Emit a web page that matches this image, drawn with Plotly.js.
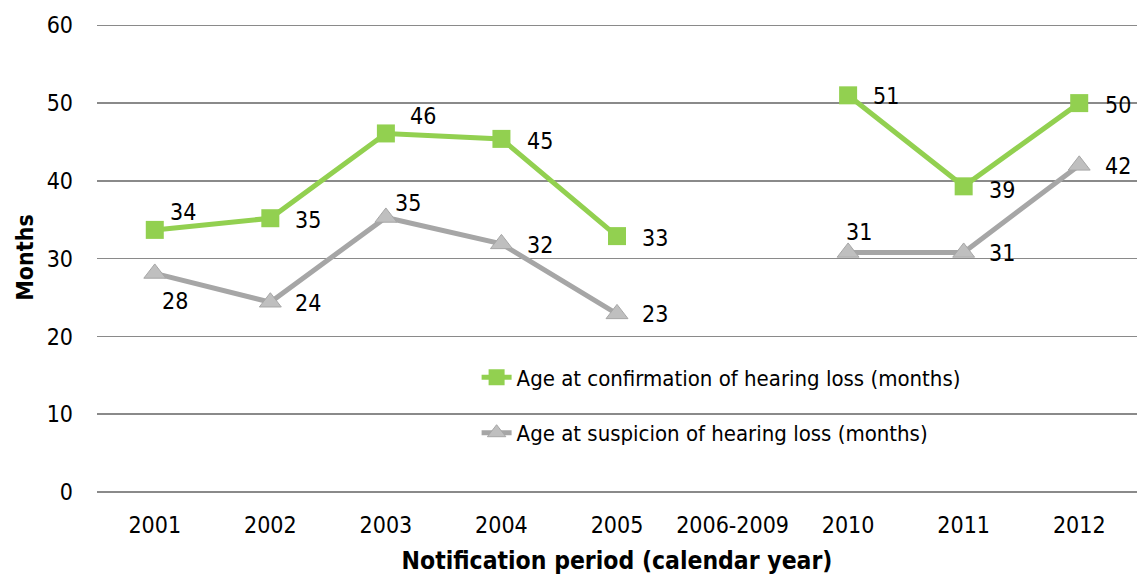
<!DOCTYPE html>
<html>
<head>
<meta charset="utf-8">
<script src="https://cdn.plot.ly/plotly-3.0.1.min.js"></script>
<style>html,body{margin:0;padding:0;background:#fff;}#chart{width:1137px;height:576px;}#err{position:absolute;left:200px;top:0;color:red;font:12px sans-serif;}</style>
</head>
<body>
<div id="chart"></div>
<div id="err"></div>
<script>
window.onerror = function(m){document.getElementById('err').textContent += ' ' + m;};
const categories = ["2001","2002","2003","2004","2005","2006-2009","2010","2011","2012"];
const confirmation = [33.7, 35.2, 46.1, 45.4, 32.9, null, 51.0, 39.3, 50.0];
const suspicion = [28.1, 24.4, 35.3, 31.9, 22.9, null, 30.8, 30.8, 42.0];
const confirmationLabels = ["34","35","46","45","33","","51","39","50"];
const suspicionLabels = ["28","24","35","32","23","","31","31","42"];
const seriesNames = ["Age at confirmation of hearing loss (months)", "Age at suspicion of hearing loss (months)"];

// label offsets (px) relative to marker: [xshift, yshift]
const confOffsets = [[28,18],[38,-2],[37,17],[39,-2],[38,-2],[0,0],[38,-1],[38,-4],[39,-2]];
const suspOffsets = [[20,-28],[38,-1],[22,14],[39,-1],[38,0],[0,0],[11,20],[38,-1],[39,-1]];

const FONT = "'DejaVu Sans Condensed', 'DejaVu Sans', sans-serif";
const FS = 23;

const traces = [
  {x: categories, y: confirmation, name: seriesNames[0], type: 'scatter', mode: 'lines+markers',
   connectgaps: false, line: {color: '#92D050', width: 5}, marker: {symbol: 'square', size: 18, color: '#92D050'},
   legend: 'legend', hoverinfo: 'skip'},
  {x: categories, y: suspicion, name: seriesNames[1], type: 'scatter', mode: 'lines+markers',
   connectgaps: false, line: {color: '#A6A6A6', width: 5}, marker: {symbol: 'triangle-up', size: 19, color: '#BFBFBF', line: {color: '#A6A6A6', width: 1}},
   legend: 'legend2', hoverinfo: 'skip'}
];

const annotations = [];
function addLabels(vals, labels, offs) {
  for (let i = 0; i < vals.length; i++) {
    if (vals[i] === null) continue;
    annotations.push({x: i, y: vals[i], xref: 'x', yref: 'y', text: labels[i], showarrow: false,
      xshift: offs[i][0], yshift: offs[i][1], font: {family: FONT, size: FS, color: '#000000'}});
  }
}
addLabels(confirmation, confirmationLabels, confOffsets);
addLabels(suspicion, suspicionLabels, suspOffsets);

const layout = {
  width: 1137, height: 576,
  margin: {l: 97, r: 0, t: 23, b: 84},
  paper_bgcolor: '#fff', plot_bgcolor: '#fff',
  font: {family: FONT, size: FS, color: '#000'},
  showlegend: true,
  xaxis: {type: 'category', categoryorder: 'array', categoryarray: categories,
    showgrid: false, zeroline: false, showline: false, ticks: '', ticklabelstandoff: 17,
    tickfont: {family: FONT, size: FS, color: '#000'},
    title: {text: 'Notification period (calendar year)', font: {family: FONT, size: 24.5, color: '#000', weight: 'bold'}, standoff: 14},
    range: [-0.5, 8.5]},
  yaxis: {range: [0, 60.3], dtick: 10, tick0: 0, showgrid: true, gridcolor: '#8a8a8a', gridwidth: 1.5,
    zeroline: true, zerolinecolor: '#8a8a8a', zerolinewidth: 1.5, showline: false, ticks: '', ticklabelstandoff: 23,
    tickfont: {family: FONT, size: FS, color: '#000'},
    title: {text: 'Months', font: {family: FONT, size: 23, color: '#000', weight: 'bold'}, standoff: 6}},
  legend: {x: 0.365, y: 0.244, xanchor: 'left', yanchor: 'middle', bgcolor: 'rgba(255,255,255,0)', font: {family: FONT, size: 22, color: '#000'}},
  legend2: {x: 0.365, y: 0.126, xanchor: 'left', yanchor: 'middle', bgcolor: 'rgba(255,255,255,0)', font: {family: FONT, size: 22, color: '#000'}},
  annotations: annotations
};

Plotly.newPlot('chart', traces, layout, {displayModeBar: false, staticPlot: true}).catch(function(e){document.getElementById('err').textContent += ' ' + e;});
</script>
</body>
</html>
